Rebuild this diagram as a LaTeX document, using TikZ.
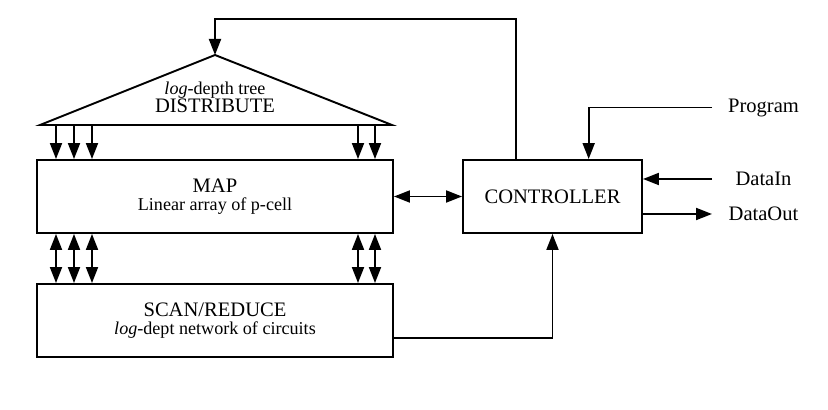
\documentclass[tikz,border=0pt]{standalone}
\usepackage{fontspec}
\setmainfont{Liberation Serif}
\usetikzlibrary{arrows.meta, positioning, calc}

\tikzset{
  unit/.style={draw, line width=1.1pt, minimum height=1.46cm, align=center},
  tip/.style={-{Triangle[length=0.32cm,width=0.24cm]}},
  dtip/.style={{Triangle[length=0.32cm,width=0.24cm]}-{Triangle[length=0.32cm,width=0.24cm]}},
}
\newcommand{\subline}[1]{{\fontsize{10.3}{11.5}\selectfont #1}}

\begin{document}
\begin{tikzpicture}[line width=1.1pt, font=\fontsize{11.7}{13}\selectfont]
    \useasboundingbox (0,0) rectangle (16.56,8.2);
    % blocks
    \node[unit, minimum width=7.12cm] (map) at (4.30,4.27)
      {MAP\\[-3pt]\subline{Linear array of p-cell}};
    \node[unit, minimum width=7.12cm] (scan) at (4.30,1.79)
      {SCAN/REDUCE\\[-3pt]\subline{\textit{log}-dept network of circuits}};
    \node[unit, minimum width=3.58cm] (ctrl) at (11.05,4.27) {CONTROLLER};
    % distribute tree
    \coordinate (apex) at (4.30,7.10);
    \coordinate (bl) at (0.80,5.70);
    \coordinate (br) at (7.84,5.70);
    \draw (apex) -- (bl) -- (br) -- cycle;
    \node[align=center] (dist) at (4.30,6.25)
      {\subline{\textit{log}-depth tree}\\[-3pt]DISTRIBUTE};
    % outside signals
    \node (prog) at (15.27,6.05) {Program};
    \node (din) at (15.27,4.62) {DataIn};
    \node (dout) at (15.27,3.92) {DataOut};
    \coordinate (progend) at (14.24,0 |- prog);
    \coordinate (dinend) at (14.24,0 |- din);
    \coordinate (doutend) at (14.24,0 |- dout);
    \coordinate (top) at (4.30,7.82);
    % tree -> map, map <-> scan
    \foreach \x in {1.12,1.48,1.84,7.16,7.50} {
      \draw[tip] (\x,0 |- bl) -- (\x,0 |- map.north);
      \draw[dtip] (\x,0 |- map.south) -- (\x,0 |- scan.north);
    }
    % controller links
    \draw[dtip] (map) -- (ctrl);
    \draw[tip] ($(ctrl.north west)!0.3!(ctrl.north east)$) |- (top) -- (apex);
    \draw[tip] (progend) -| ($(ctrl.north west)!0.7!(ctrl.north east)$);
    \draw[tip] (dinend) -- (ctrl.east |- din);
    \draw[tip] (ctrl.east |- dout) -- (doutend);
    \draw[tip] ([yshift=-0.35cm]scan.east) -| (ctrl.south);
\end{tikzpicture}
\end{document}
